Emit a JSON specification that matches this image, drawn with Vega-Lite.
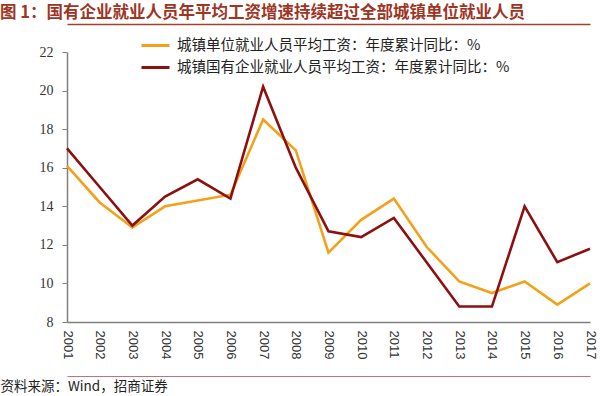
{
  "$schema": "https://vega.github.io/schema/vega-lite/v6.json",
  "width": 523,
  "height": 270,
  "autosize": {"type": "none"},
  "padding": {"left": 67, "top": 52, "right": 10, "bottom": 74},
  "background": "white",
  "config": {"view": {"stroke": null}},
  "title": {
    "text": "图 1：国有企业就业人员年平均工资增速持续超过全部城镇单位就业人员",
    "anchor": "start",
    "frame": "group",
    "dx": -67,
    "offset": 3,
    "font": "Noto Sans CJK SC",
    "fontSize": 16.5,
    "fontWeight": "bold",
    "color": "#9E3424"
  },
  "data": {
    "values": [
      {"year": "2001", "series": "城镇单位就业人员平均工资：年度累计同比：%", "value": 16.1},
      {"year": "2002", "series": "城镇单位就业人员平均工资：年度累计同比：%", "value": 14.2},
      {"year": "2003", "series": "城镇单位就业人员平均工资：年度累计同比：%", "value": 12.9},
      {"year": "2004", "series": "城镇单位就业人员平均工资：年度累计同比：%", "value": 14.0},
      {"year": "2005", "series": "城镇单位就业人员平均工资：年度累计同比：%", "value": 14.3},
      {"year": "2006", "series": "城镇单位就业人员平均工资：年度累计同比：%", "value": 14.6},
      {"year": "2007", "series": "城镇单位就业人员平均工资：年度累计同比：%", "value": 18.5},
      {"year": "2008", "series": "城镇单位就业人员平均工资：年度累计同比：%", "value": 16.9},
      {"year": "2009", "series": "城镇单位就业人员平均工资：年度累计同比：%", "value": 11.6},
      {"year": "2010", "series": "城镇单位就业人员平均工资：年度累计同比：%", "value": 13.3},
      {"year": "2011", "series": "城镇单位就业人员平均工资：年度累计同比：%", "value": 14.4},
      {"year": "2012", "series": "城镇单位就业人员平均工资：年度累计同比：%", "value": 11.9},
      {"year": "2013", "series": "城镇单位就业人员平均工资：年度累计同比：%", "value": 10.1},
      {"year": "2014", "series": "城镇单位就业人员平均工资：年度累计同比：%", "value": 9.5},
      {"year": "2015", "series": "城镇单位就业人员平均工资：年度累计同比：%", "value": 10.1},
      {"year": "2016", "series": "城镇单位就业人员平均工资：年度累计同比：%", "value": 8.9},
      {"year": "2017", "series": "城镇单位就业人员平均工资：年度累计同比：%", "value": 10.0},
      {"year": "2001", "series": "城镇国有企业就业人员平均工资：年度累计同比：%", "value": 17.0},
      {"year": "2002", "series": "城镇国有企业就业人员平均工资：年度累计同比：%", "value": 15.0},
      {"year": "2003", "series": "城镇国有企业就业人员平均工资：年度累计同比：%", "value": 13.0},
      {"year": "2004", "series": "城镇国有企业就业人员平均工资：年度累计同比：%", "value": 14.5},
      {"year": "2005", "series": "城镇国有企业就业人员平均工资：年度累计同比：%", "value": 15.4},
      {"year": "2006", "series": "城镇国有企业就业人员平均工资：年度累计同比：%", "value": 14.4},
      {"year": "2007", "series": "城镇国有企业就业人员平均工资：年度累计同比：%", "value": 20.2},
      {"year": "2008", "series": "城镇国有企业就业人员平均工资：年度累计同比：%", "value": 16.0},
      {"year": "2009", "series": "城镇国有企业就业人员平均工资：年度累计同比：%", "value": 12.7},
      {"year": "2010", "series": "城镇国有企业就业人员平均工资：年度累计同比：%", "value": 12.4},
      {"year": "2011", "series": "城镇国有企业就业人员平均工资：年度累计同比：%", "value": 13.4},
      {"year": "2012", "series": "城镇国有企业就业人员平均工资：年度累计同比：%", "value": 11.1},
      {"year": "2013", "series": "城镇国有企业就业人员平均工资：年度累计同比：%", "value": 8.8},
      {"year": "2014", "series": "城镇国有企业就业人员平均工资：年度累计同比：%", "value": 8.8},
      {"year": "2015", "series": "城镇国有企业就业人员平均工资：年度累计同比：%", "value": 14.0},
      {"year": "2016", "series": "城镇国有企业就业人员平均工资：年度累计同比：%", "value": 11.1},
      {"year": "2017", "series": "城镇国有企业就业人员平均工资：年度累计同比：%", "value": 11.8}
    ]
  },
  "layer": [
    {
      "mark": {"type": "line", "strokeWidth": 2.6},
      "encoding": {
        "x": {
          "field": "year",
          "type": "ordinal",
          "scale": {"type": "point", "padding": 0},
          "axis": {
            "orient": "bottom",
            "title": null,
            "labelAngle": 90,
            "labelFont": "Liberation Sans",
            "labelFontSize": 13,
            "labelColor": "#333333",
            "labelPadding": 8,
            "ticks": false,
            "domainColor": "#7f7f7f",
            "domainWidth": 1.5
          }
        },
        "y": {
          "field": "value",
          "type": "quantitative",
          "scale": {"domain": [8, 22], "nice": false, "zero": false},
          "axis": {
            "title": null,
            "values": [8, 10, 12, 14, 16, 18, 20, 22],
            "grid": false,
            "labelFont": "Liberation Serif",
            "labelFontSize": 14,
            "labelColor": "#333333",
            "labelPadding": 9,
            "tickSize": 5,
            "tickColor": "#7f7f7f",
            "domainColor": "#7f7f7f",
            "domainWidth": 1.5
          }
        },
        "color": {
          "field": "series",
          "type": "nominal",
          "sort": ["城镇单位就业人员平均工资：年度累计同比：%", "城镇国有企业就业人员平均工资：年度累计同比：%"],
          "scale": {
            "domain": ["城镇单位就业人员平均工资：年度累计同比：%", "城镇国有企业就业人员平均工资：年度累计同比：%"],
            "range": ["#F5A01A", "#8C1010"]
          },
          "legend": {
            "title": null,
            "orient": "none",
            "legendX": 73,
            "legendY": -22,
            "symbolType": "stroke",
            "symbolSize": 784,
            "symbolStrokeWidth": 3,
            "labelFont": "Noto Sans CJK SC",
            "labelFontSize": 14.5,
            "labelColor": "#222222",
            "labelOffset": 6,
            "rowPadding": 0,
            "labelLimit": 500
          }
        }
      }
    },
    {
      "mark": {"type": "point", "opacity": 0},
      "encoding": {
        "x": {
          "field": "year",
          "type": "ordinal",
          "axis": {
            "orient": "top",
            "offset": 28,
            "labels": false,
            "ticks": false,
            "title": null,
            "domainColor": "#A0402E",
            "domainWidth": 1.5
          }
        }
      }
    },
    {
      "mark": {"type": "point", "opacity": 0},
      "encoding": {
        "x": {
          "field": "year",
          "type": "ordinal",
          "axis": {
            "orient": "bottom",
            "offset": 54,
            "labels": false,
            "ticks": false,
            "domainColor": "#C8707A",
            "domainWidth": 1,
            "title": "资料来源：Wind，招商证券",
            "titleAnchor": "start",
            "titleX": -67,
            "titleY": 14,
            "titleBaseline": "alphabetic",
            "titleFont": "Noto Sans CJK SC",
            "titleFontSize": 13.5,
            "titleFontWeight": "normal",
            "titleColor": "#222222"
          }
        }
      }
    }
  ],
  "resolve": {"axis": {"x": "independent"}}
}
